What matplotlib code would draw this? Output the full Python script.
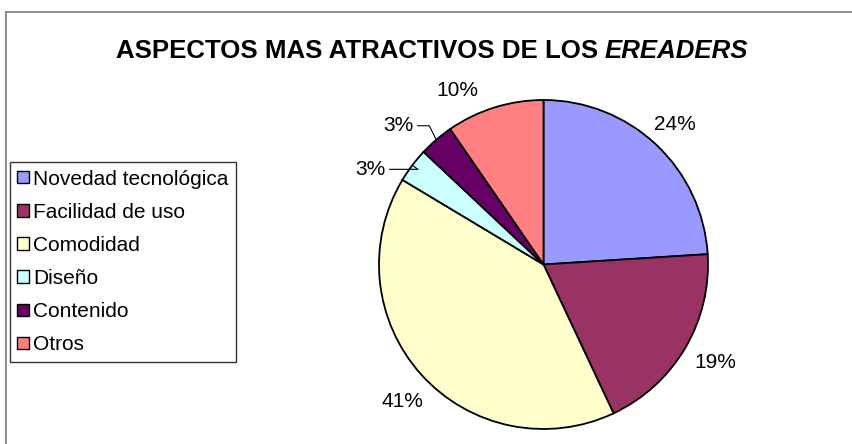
import matplotlib
matplotlib.use('Agg')
import numpy as np
import matplotlib.pyplot as plt
from matplotlib.patches import Patch
from matplotlib.lines import Line2D

plt.rcParams['font.family'] = ['Liberation Sans', 'DejaVu Sans']

title_main = 'ASPECTOS MAS ATRACTIVOS DE LOS '
title_ital = 'EREADERS'
categories = ['Novedad tecnológica', 'Facilidad de uso', 'Comodidad',
              'Diseño', 'Contenido', 'Otros']
values = [24.0, 19.0, 40.6, 3.4, 3.4, 9.6]
colors = ['#9999FF', '#993366', '#FFFFCC', '#CCFFFF', '#660066', '#FF8080']

W, H = 853, 444
fig = plt.figure(figsize=(W / 100, H / 100), dpi=100)
fig.patch.set_facecolor('white')

# outer chart border (left and top visible)
fig.add_artist(Line2D([6 / W, 6 / W], [-0.1, 1 - 12 / H], color='#8c8c8c', lw=1.4))
fig.add_artist(Line2D([6 / W, 1.1], [1 - 12 / H, 1 - 12 / H], color='#8c8c8c', lw=1.4))

cx, cy, r = 543.5, 264.5, 164.5
ax = fig.add_axes([(cx - r) / W, (H - cy - r) / H, 2 * r / W, 2 * r / H])
wedges, _ = ax.pie(values, colors=colors, startangle=90, counterclock=False,
                   radius=1, wedgeprops=dict(edgecolor='black', linewidth=1.3))
ax.set_xlim(-1, 1)
ax.set_ylim(-1, 1)
ax.set_aspect('equal')
ax.axis('off')

fs = 15
# label placement: (distance, angle shift) per wedge
label_pos = {0: (1.17, 0), 1: (1.2, 1), 2: (1.195, 2), 5: (1.18, 9)}
leader = {3: (-42, -4, -35), 4: (-38, 14, -63.4)}
for i, w in enumerate(wedges):
    mid = np.deg2rad((w.theta1 + w.theta2) / 2)
    txt = '%d%%' % round(values[i])
    if i in label_pos:
        d, sh = label_pos[i]
        a = mid + np.deg2rad(sh)
        ax.text(d * np.cos(a), d * np.sin(a), txt, ha='center', va='center',
                fontsize=fs, clip_on=False)
    else:
        dx, dy, angB = leader[i]
        ax.annotate(txt, xy=(np.cos(mid), np.sin(mid)), xytext=(dx, dy),
                    textcoords='offset pixels', ha='center', va='center',
                    fontsize=fs, annotation_clip=False,
                    arrowprops=dict(arrowstyle='-', color='black', lw=0.8,
                                    relpos=(1, 0.5), shrinkA=1, shrinkB=0,
                                    connectionstyle='angle,angleA=0,angleB=%g,rad=0' % angB))

# title with italic part
renderer = fig.canvas.get_renderer()
t1 = fig.text(0, 0, title_main, fontsize=18.6, fontweight='bold')
t2 = fig.text(0, 0, title_ital, fontsize=18.6, fontweight='bold', style='italic')
w1 = t1.get_window_extent(renderer).width
w2 = t2.get_window_extent(renderer).width
x0 = 432 - (w1 + w2) / 2
ty = 1 - 51 / H
t1.set_position((x0 / W, ty))
t1.set_va('center')
t2.set_position(((x0 + w1) / W, ty))
t2.set_va('center')

handles = [Patch(facecolor=c, edgecolor='black', lw=1) for c in colors]
leg = fig.legend(handles, categories, loc='center left',
                 bbox_to_anchor=(10 / W, 1 - 262 / H), fontsize=fs,
                 frameon=True, fancybox=False, shadow=False, borderaxespad=0,
                 handlelength=0.55, handleheight=0.55, handletextpad=0.2,
                 labelspacing=0.68, borderpad=0.35)
leg.get_frame().set_edgecolor('black')
leg.get_frame().set_linewidth(1.0)

fig.savefig('out.png', dpi=100)
